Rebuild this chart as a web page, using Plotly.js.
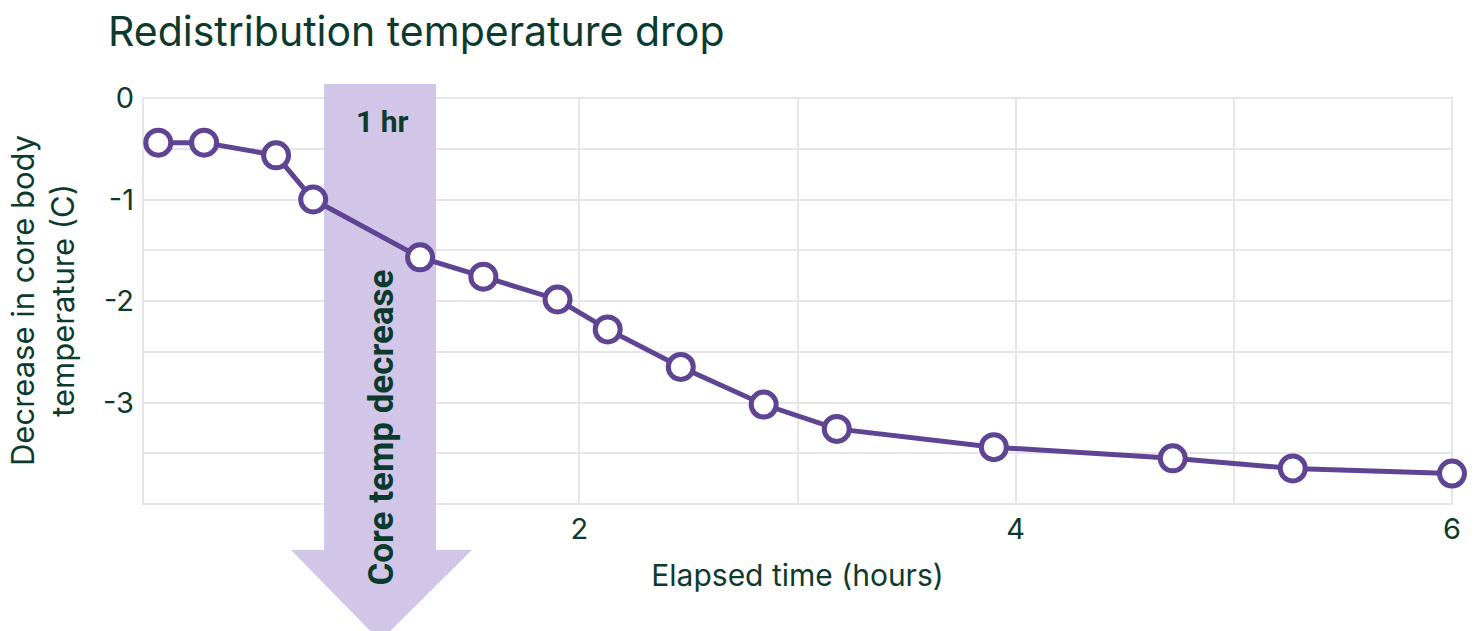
<!DOCTYPE html>
<html>
<head>
<meta charset="utf-8">
<script src="https://cdn.plot.ly/plotly-3.0.1.min.js"></script>
<style>html,body{margin:0;padding:0;background:#fff;}#chart{width:1476px;height:631px;}</style>
</head>
<body>
<div id="chart"></div>
<script>
// Data
const elapsedHours = [0.07, 0.28, 0.61, 0.78, 1.27, 1.56, 1.90, 2.13, 2.465, 2.845, 3.18, 3.90, 4.72, 5.27, 6.0];
const tempDecrease = [-0.44, -0.44, -0.565, -1.0, -1.57, -1.76, -1.985, -2.28, -2.65, -3.02, -3.26, -3.44, -3.55, -3.65, -3.70];
const xTickVals = [0, 1, 2, 3, 4, 5, 6];
const xTickText = ["", "", "2", "", "4", "", "6"];
const yTickVals = [0, -0.5, -1, -1.5, -2, -2.5, -3, -3.5, -4];
const yTickText = ["0", "", "-1", "", "-2", "", "-3", "", ""];
const arrowStartHr = 0.83;
const arrowEndHr = 1.343;

const W = 1476, H = 631;
const M = {l: 143, r: 24, t: 98, b: 127};
const pw = W - M.l - M.r, ph = H - M.t - M.b;
const xr = [0, 6];
// helpers converting to paper coords for the decorative arrow
const xp = v => (v - xr[0]) / (xr[1] - xr[0]);
const yPx = py => (H - M.b - py) / ph;
const xPx = px => (px - M.l) / pw;

const green = "#0c3b2e";
const purple = "#5f4494";
const lilac = "#d1c6e8";
const grid = "#e6e6e6";
const font = "Inter, 'Open Sans', sans-serif";

const aL = xp(arrowStartHr), aR = xp(arrowEndHr);
const hL = xPx(291), hR = xPx(472), tipX = (aL + aR) / 2;
const arrowPath = `M ${aL} ${yPx(84)} L ${aR} ${yPx(84)} L ${aR} ${yPx(550)} L ${hR} ${yPx(550)} L ${tipX} ${yPx(641)} L ${hL} ${yPx(550)} L ${aL} ${yPx(550)} Z`;

const data = [{
  x: elapsedHours,
  y: tempDecrease,
  type: "scatter",
  mode: "lines+markers",
  line: {color: purple, width: 5},
  marker: {size: 25, color: "#ffffff", line: {color: purple, width: 5}},
  cliponaxis: false,
  hoverinfo: "x+y"
}];

const layout = {
  width: W, height: H,
  margin: M,
  paper_bgcolor: "#ffffff",
  plot_bgcolor: "#ffffff",
  showlegend: false,
  font: {family: font, color: green, size: 29},
  title: {
    text: "Redistribution temperature drop",
    font: {family: font, size: 41, color: green},
    xref: "container", yref: "container",
    x: 108 / W, xanchor: "left",
    y: 1 - 32 / H, yanchor: "middle"
  },
  xaxis: {
    range: xr,
    tickvals: xTickVals, ticktext: xTickText,
    showgrid: true, gridcolor: grid, gridwidth: 2,
    showline: false,
    zeroline: false, ticks: "",
    ticklabelstandoff: 5,
    tickfont: {size: 29, color: green, family: font},
    title: {text: "Elapsed time (hours)", font: {size: 30, color: green, family: font}, standoff: 19}
  },
  yaxis: {
    range: [-4, 0],
    tickvals: yTickVals, ticktext: yTickText,
    showgrid: true, gridcolor: grid, gridwidth: 2,
    showline: false,
    zeroline: false, ticks: "",
    ticklabelstandoff: 8,
    tickfont: {size: 29, color: green, family: font}
  },
  shapes: [
    {type: "rect", xref: "paper", yref: "paper", x0: 0, x1: 1, y0: 0, y1: 1, fillcolor: "rgba(0,0,0,0)", line: {color: grid, width: 2}, layer: "below"},
    {type: "path", xref: "paper", yref: "paper", path: arrowPath, fillcolor: lilac, line: {width: 0}, layer: "below"},
    {type: "rect", xref: "x", yref: "y", x0: arrowStartHr, x1: arrowEndHr, y0: -4.02, y1: 0.02, fillcolor: lilac, line: {width: 0}, layer: "between"}
  ],
  annotations: [
    {text: "Decrease in core body<br>temperature (C)", xref: "paper", yref: "paper", x: xPx(42), y: 0.5,
     xanchor: "center", yanchor: "middle", textangle: -90, showarrow: false,
     font: {size: 31, color: green, family: font}},
    {text: "<b>1 hr</b>", xref: "x", yref: "y", x: 1.094, y: -0.235, showarrow: false,
     xanchor: "center", yanchor: "middle", font: {size: 30, color: green, family: "Roboto, sans-serif"}},
    {text: "<b>Core temp decrease</b>", xref: "x", yref: "y", x: 1.094, y: -3.25, showarrow: false,
     textangle: -90, xanchor: "center", yanchor: "middle", font: {size: 35, color: green, family: "Roboto, sans-serif"}}
  ]
};

Plotly.newPlot("chart", data, layout, {displayModeBar: false, staticPlot: true});
</script>
</body>
</html>
